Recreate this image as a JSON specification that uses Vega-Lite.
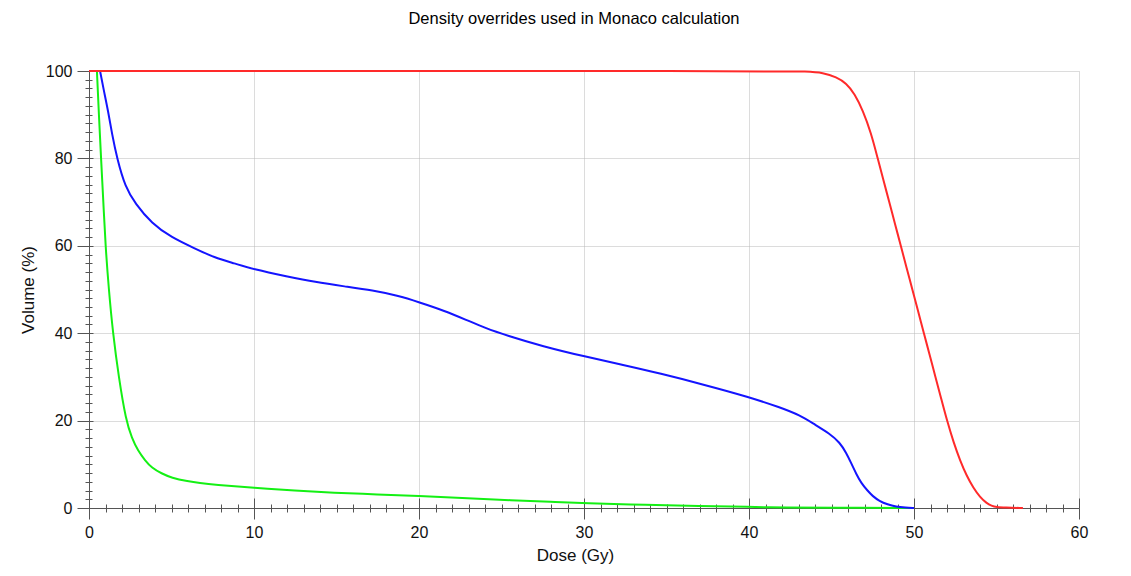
{
  "$schema": "https://vega.github.io/schema/vega-lite/v6.json",
  "width": 990,
  "height": 437,
  "autosize": {"type": "none"},
  "padding": {"left": 89, "top": 71, "right": 52, "bottom": 68},
  "background": "white",
  "config": {"view": {"stroke": null}, "font": "Liberation Sans"},
  "title": {
    "text": "Density overrides used in Monaco calculation",
    "font": "Liberation Sans",
    "fontSize": 16.5,
    "fontWeight": "normal",
    "color": "#000000",
    "anchor": "middle",
    "frame": "group",
    "baseline": "alphabetic",
    "dx": -10,
    "offset": 23
  },
  "data": {
    "values": [
      {"structure": "Body", "dose": 0, "volume": 100},
      {"structure": "Body", "dose": 0.48, "volume": 100},
      {"structure": "Body", "dose": 0.48, "volume": 100},
      {"structure": "Body", "dose": 0.48, "volume": 100},
      {"structure": "Body", "dose": 0.6, "volume": 90},
      {"structure": "Body", "dose": 0.73, "volume": 80},
      {"structure": "Body", "dose": 0.87, "volume": 70},
      {"structure": "Body", "dose": 1.0, "volume": 60},
      {"structure": "Body", "dose": 1.2, "volume": 50},
      {"structure": "Body", "dose": 1.45, "volume": 40},
      {"structure": "Body", "dose": 1.8, "volume": 30},
      {"structure": "Body", "dose": 2.24, "volume": 20},
      {"structure": "Body", "dose": 2.6, "volume": 16},
      {"structure": "Body", "dose": 2.97, "volume": 13.1},
      {"structure": "Body", "dose": 3.4, "volume": 10.9},
      {"structure": "Body", "dose": 3.8, "volume": 9.2},
      {"structure": "Body", "dose": 4.4, "volume": 7.9},
      {"structure": "Body", "dose": 5.0, "volume": 6.9},
      {"structure": "Body", "dose": 6.0, "volume": 6.1},
      {"structure": "Body", "dose": 6.7, "volume": 5.7},
      {"structure": "Body", "dose": 7.6, "volume": 5.3},
      {"structure": "Body", "dose": 10, "volume": 4.6},
      {"structure": "Body", "dose": 12.5, "volume": 4.0},
      {"structure": "Body", "dose": 14.8, "volume": 3.5},
      {"structure": "Body", "dose": 17.5, "volume": 3.1},
      {"structure": "Body", "dose": 20, "volume": 2.75},
      {"structure": "Body", "dose": 22.5, "volume": 2.3},
      {"structure": "Body", "dose": 25.7, "volume": 1.76},
      {"structure": "Body", "dose": 28, "volume": 1.4},
      {"structure": "Body", "dose": 30, "volume": 1.1},
      {"structure": "Body", "dose": 33.8, "volume": 0.7},
      {"structure": "Body", "dose": 37, "volume": 0.45},
      {"structure": "Body", "dose": 40, "volume": 0.25},
      {"structure": "Body", "dose": 42.2, "volume": 0.1},
      {"structure": "Body", "dose": 45, "volume": 0.05},
      {"structure": "Body", "dose": 50, "volume": 0},
      {"structure": "Lung", "dose": 0, "volume": 100},
      {"structure": "Lung", "dose": 0.67, "volume": 100},
      {"structure": "Lung", "dose": 0.67, "volume": 100},
      {"structure": "Lung", "dose": 0.67, "volume": 100},
      {"structure": "Lung", "dose": 0.9, "volume": 95.5},
      {"structure": "Lung", "dose": 1.15, "volume": 91},
      {"structure": "Lung", "dose": 1.4, "volume": 85.5},
      {"structure": "Lung", "dose": 1.7, "volume": 80},
      {"structure": "Lung", "dose": 2.2, "volume": 73.4},
      {"structure": "Lung", "dose": 2.8, "volume": 69.7},
      {"structure": "Lung", "dose": 3.8, "volume": 65.1},
      {"structure": "Lung", "dose": 5.0, "volume": 61.9},
      {"structure": "Lung", "dose": 6.4, "volume": 59.4},
      {"structure": "Lung", "dose": 7.6, "volume": 57.3},
      {"structure": "Lung", "dose": 8.8, "volume": 56},
      {"structure": "Lung", "dose": 10, "volume": 54.6},
      {"structure": "Lung", "dose": 12, "volume": 53},
      {"structure": "Lung", "dose": 13.7, "volume": 51.7},
      {"structure": "Lung", "dose": 15.5, "volume": 50.7},
      {"structure": "Lung", "dose": 17.2, "volume": 49.8},
      {"structure": "Lung", "dose": 18.7, "volume": 48.6},
      {"structure": "Lung", "dose": 20, "volume": 47.1},
      {"structure": "Lung", "dose": 21.5, "volume": 45.2},
      {"structure": "Lung", "dose": 22.9, "volume": 43},
      {"structure": "Lung", "dose": 24, "volume": 41.2},
      {"structure": "Lung", "dose": 25.3, "volume": 39.5},
      {"structure": "Lung", "dose": 27.5, "volume": 37},
      {"structure": "Lung", "dose": 30, "volume": 34.7},
      {"structure": "Lung", "dose": 32.3, "volume": 32.8},
      {"structure": "Lung", "dose": 34.6, "volume": 30.8},
      {"structure": "Lung", "dose": 37.3, "volume": 28.2},
      {"structure": "Lung", "dose": 40, "volume": 25.4},
      {"structure": "Lung", "dose": 41.9, "volume": 23},
      {"structure": "Lung", "dose": 43.1, "volume": 21.2},
      {"structure": "Lung", "dose": 43.9, "volume": 19.3},
      {"structure": "Lung", "dose": 44.9, "volume": 17},
      {"structure": "Lung", "dose": 45.5, "volume": 15},
      {"structure": "Lung", "dose": 45.9, "volume": 12.6},
      {"structure": "Lung", "dose": 46.2, "volume": 10.2},
      {"structure": "Lung", "dose": 46.5, "volume": 7.8},
      {"structure": "Lung", "dose": 46.8, "volume": 5.7},
      {"structure": "Lung", "dose": 47.2, "volume": 3.9},
      {"structure": "Lung", "dose": 47.5, "volume": 2.7},
      {"structure": "Lung", "dose": 47.9, "volume": 1.6},
      {"structure": "Lung", "dose": 48.4, "volume": 0.8},
      {"structure": "Lung", "dose": 48.9, "volume": 0.3},
      {"structure": "Lung", "dose": 49.5, "volume": 0.1},
      {"structure": "Lung", "dose": 50, "volume": 0},
      {"structure": "PTV", "dose": 0, "volume": 100},
      {"structure": "PTV", "dose": 41.8, "volume": 100},
      {"structure": "PTV", "dose": 43.5, "volume": 99.9},
      {"structure": "PTV", "dose": 44.5, "volume": 99.6},
      {"structure": "PTV", "dose": 45.3, "volume": 98.6},
      {"structure": "PTV", "dose": 45.9, "volume": 97.2},
      {"structure": "PTV", "dose": 46.4, "volume": 94.8},
      {"structure": "PTV", "dose": 46.9, "volume": 91},
      {"structure": "PTV", "dose": 47.4, "volume": 85.8},
      {"structure": "PTV", "dose": 47.8, "volume": 80},
      {"structure": "PTV", "dose": 48.15, "volume": 75},
      {"structure": "PTV", "dose": 48.5, "volume": 70},
      {"structure": "PTV", "dose": 48.85, "volume": 65},
      {"structure": "PTV", "dose": 49.2, "volume": 60},
      {"structure": "PTV", "dose": 49.55, "volume": 55},
      {"structure": "PTV", "dose": 49.9, "volume": 50},
      {"structure": "PTV", "dose": 50.25, "volume": 45},
      {"structure": "PTV", "dose": 50.6, "volume": 40},
      {"structure": "PTV", "dose": 50.95, "volume": 35},
      {"structure": "PTV", "dose": 51.3, "volume": 30},
      {"structure": "PTV", "dose": 51.65, "volume": 25},
      {"structure": "PTV", "dose": 52.0, "volume": 20},
      {"structure": "PTV", "dose": 52.4, "volume": 15},
      {"structure": "PTV", "dose": 52.8, "volume": 10.8},
      {"structure": "PTV", "dose": 53.2, "volume": 7.3},
      {"structure": "PTV", "dose": 53.6, "volume": 4.6},
      {"structure": "PTV", "dose": 54.0, "volume": 2.5},
      {"structure": "PTV", "dose": 54.4, "volume": 1.1},
      {"structure": "PTV", "dose": 54.7, "volume": 0.5},
      {"structure": "PTV", "dose": 55.0, "volume": 0.2},
      {"structure": "PTV", "dose": 55.5, "volume": 0.1},
      {"structure": "PTV", "dose": 56.6, "volume": 0}
    ]
  },
  "resolve": {"axis": {"x": "independent", "y": "independent"}},
  "layer": [
    {
      "mark": {"type": "line", "opacity": 0},
      "encoding": {
        "x": {
          "field": "dose", "type": "quantitative",
          "scale": {"domain": [0, 60], "nice": false},
          "axis": {
            "orient": "bottom",
            "values": [0,1,2,3,4,5,6,7,8,9,10,11,12,13,14,15,16,17,18,19,20,21,22,23,24,25,26,27,28,29,30,31,32,33,34,35,36,37,38,39,40,41,42,43,44,45,46,47,48,49,50,51,52,53,54,55,56,57,58,59,60],
            "labels": false, "domain": false, "grid": false, "title": null,
            "tickColor": "#555555", "tickWidth": 1,
            "tickSize": {"expr": "datum.value % 10 === 0 ? -10 : -4"}
          }
        },
        "y": {
          "field": "volume", "type": "quantitative",
          "scale": {"domain": [0, 100], "nice": false},
          "axis": {
            "orient": "left",
            "values": [0,2,4,6,8,10,12,14,16,18,20,22,24,26,28,30,32,34,36,38,40,42,44,46,48,50,52,54,56,58,60,62,64,66,68,70,72,74,76,78,80,82,84,86,88,90,92,94,96,98,100],
            "labels": false, "domain": false, "grid": false, "title": null,
            "tickColor": "#555555", "tickWidth": 1,
            "tickSize": {"expr": "datum.value % 20 === 0 ? -4 : -3"}
          }
        },
        "detail": {"field": "structure"}
      }
    },
    {
      "mark": {"type": "line", "strokeWidth": 2, "interpolate": "basis"},
      "encoding": {
        "x": {
          "field": "dose", "type": "quantitative",
          "scale": {"domain": [0, 60], "nice": false},
          "axis": {
            "orient": "bottom",
            "values": [0,1,2,3,4,5,6,7,8,9,10,11,12,13,14,15,16,17,18,19,20,21,22,23,24,25,26,27,28,29,30,31,32,33,34,35,36,37,38,39,40,41,42,43,44,45,46,47,48,49,50,51,52,53,54,55,56,57,58,59,60],
            "labelExpr": "datum.value % 10 === 0 ? datum.label : ''",
            "labelFont": "Liberation Sans", "labelFontSize": 16, "labelColor": "#111111",
            "labelPadding": 5, "labelFlush": false, "labelOverlap": false,
            "tickColor": "#555555", "tickWidth": 1,
            "tickSize": {"expr": "datum.value % 10 === 0 ? 11 : 4"},
            "domainColor": "#555555", "domainWidth": 1,
            "grid": true,
            "gridColor": "#b8b8b8", "gridDash": [1, 1], "gridWidth": 1,
            "gridOpacity": {"condition": {"test": "datum.value % 10 === 0", "value": 1}, "value": 0},
            "title": "Dose (Gy)",
            "titleFont": "Liberation Sans", "titleFontSize": 17, "titleFontWeight": "normal", "titleColor": "#111111",
            "titlePadding": 7, "titleX": 486
          }
        },
        "y": {
          "field": "volume", "type": "quantitative",
          "scale": {"domain": [0, 100], "nice": false},
          "axis": {
            "orient": "left",
            "values": [0,2,4,6,8,10,12,14,16,18,20,22,24,26,28,30,32,34,36,38,40,42,44,46,48,50,52,54,56,58,60,62,64,66,68,70,72,74,76,78,80,82,84,86,88,90,92,94,96,98,100],
            "labelExpr": "datum.value % 20 === 0 ? datum.label : ''",
            "labelFont": "Liberation Sans", "labelFontSize": 16, "labelColor": "#111111",
            "labelPadding": 5, "labelFlush": false, "labelOverlap": false,
            "tickColor": "#555555", "tickWidth": 1,
            "tickSize": {"expr": "datum.value % 20 === 0 ? 12 : 4"},
            "domainColor": "#555555", "domainWidth": 1,
            "grid": true,
            "gridColor": "#b8b8b8", "gridDash": [1, 1], "gridWidth": 1,
            "gridOpacity": {"condition": {"test": "datum.value % 20 === 0", "value": 1}, "value": 0},
            "title": "Volume (%)",
            "titleFont": "Liberation Sans", "titleFontSize": 17, "titleFontWeight": "normal", "titleColor": "#111111",
            "titlePadding": 8
          }
        },
        "color": {
          "field": "structure", "type": "nominal",
          "scale": {"domain": ["Body", "Lung", "PTV"], "range": ["#14f014", "#1414ff", "#ff2a2a"]},
          "legend": null
        }
      }
    }
  ]
}
